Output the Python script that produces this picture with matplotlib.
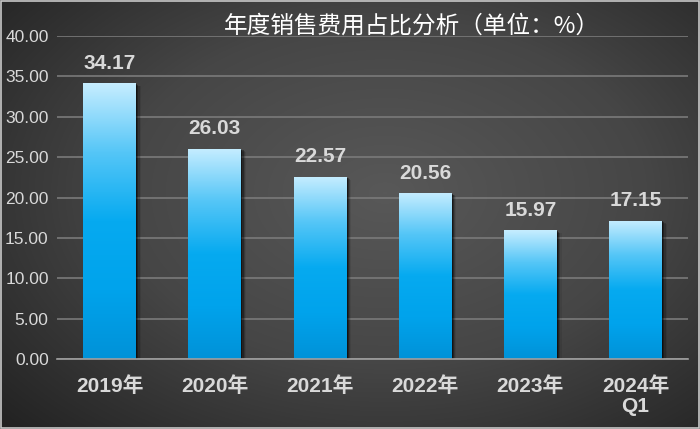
import numpy as np
import matplotlib
matplotlib.use("Agg")
import matplotlib.pyplot as plt
from matplotlib.colors import LinearSegmentedColormap
from matplotlib.patches import Rectangle

plt.rcParams['font.family'] = ['Liberation Sans', 'Noto Sans CJK SC', 'DejaVu Sans']

categories = ['2019年', '2020年', '2021年', '2022年', '2023年', '2024年\nQ1']
values = [34.17, 26.03, 22.57, 20.56, 15.97, 17.15]
yticks = [0, 5, 10, 15, 20, 25, 30, 35, 40]
title = '年度销售费用占比分析（单位：%）'

fig = plt.figure(figsize=(7, 4.29), dpi=100)

# background: radial-ish dark gradient
bg = fig.add_axes([0, 0, 1, 1], zorder=-10)
yy, xx = np.mgrid[0:1:429j, 0:1:700j]
r = np.sqrt(((xx - 0.55) / 0.75) ** 2 + ((yy - 0.45) / 0.8) ** 2)
bgcmap = LinearSegmentedColormap.from_list('bg', ['#585858', '#464646', '#222222'])
bg.imshow(np.clip(r, 0, 1), cmap=bgcmap, aspect='auto', extent=[0, 1, 0, 1], vmin=0, vmax=1)
bg.set_axis_off()
fig.patches.append(Rectangle((0.001, 0.002), 0.997, 0.996, transform=fig.transFigure,
                             fill=False, edgecolor='#c8c8c8', lw=1.2))

ax = fig.add_axes([0.0814, 0.163, 0.9016, 0.753])
ax.set_facecolor('none')

barcmap = LinearSegmentedColormap.from_list('bar', ['#c6edff', '#55c6f7', '#06aaf0', '#00a3ec', '#0092d8'])
grad = np.linspace(0, 1, 256).reshape(-1, 1)
width = 0.5
x = np.arange(len(categories))
for xi, v in zip(x, values):
    # soft shadow on the right
    for k, a in enumerate([0.45, 0.3, 0.18, 0.08]):
        ax.add_patch(Rectangle((xi - width / 2 + 0.012 * (k + 1), 0), width, v - 0.1 * (k + 1),
                               facecolor='#000000', alpha=a, edgecolor='none', zorder=2))
    bar = ax.bar(xi, v, width=width, color='none', zorder=3)[0]
    im = ax.imshow(grad, cmap=barcmap, aspect='auto', zorder=3,
                   extent=[xi - width / 2, xi + width / 2, 0, v])
    im.set_clip_path(bar)
    ax.text(xi, v + 1.3, f'{v:.2f}', ha='center', va='bottom', fontsize=15,
            fontweight='bold', color='#d9d9d9', zorder=4)

ax.set_xlim(-0.5, len(categories) - 0.5)
ax.set_ylim(0, 40)
ax.set_yticks(yticks)
ax.set_yticklabels([f'{t:.2f}' for t in yticks], fontsize=12.5, color='#d9d9d9')
ax.set_xticks(x)
ax.set_xticklabels(categories, fontsize=15, fontweight='bold', color='#d9d9d9', linespacing=1.1)
ax.tick_params(length=0, axis='both')
ax.tick_params(axis='x', pad=12)
ax.tick_params(axis='y', pad=6)
ax.grid(axis='y', color='#7a7a7a', lw=1.2, zorder=1)
for s in ['top', 'right', 'left']:
    ax.spines[s].set_visible(False)
ax.spines['bottom'].set_color('#a0a0a0')
ax.spines['bottom'].set_linewidth(1.2)
ax.spines['bottom'].set_zorder(5)

fig.text(0.588, 0.94, title, ha='center', va='center', fontsize=17, color='#ffffff',
         family=['Noto Sans CJK SC', 'DejaVu Sans'])

fig.savefig('out.png', dpi=100)
